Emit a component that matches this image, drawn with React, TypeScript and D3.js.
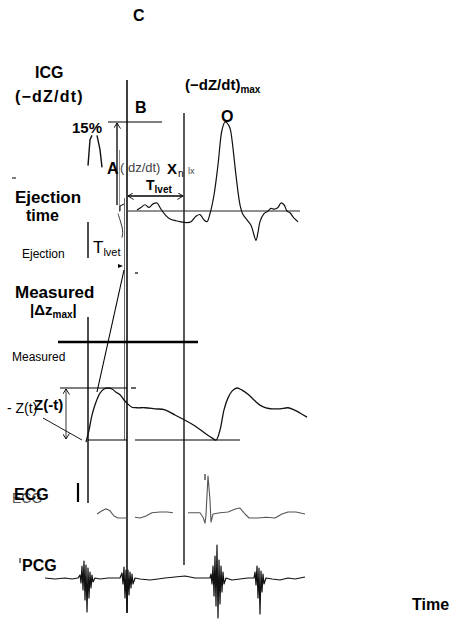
import { useEffect, useRef } from 'react';
import * as d3 from 'd3';

type Pt = [number, number];

// time in ms, amplitude in arbitrary units; NaN marks a pen-up gap
const icgEarly: Pt[] = [[240, 0.51], [250, 0.8], [260, 0.85], [NaN, NaN], [285, 0.85], [300, 0.69], [310, 0.49]];
const icgPreB: Pt[] = [[390, -0.03], [400, -0.1], [410, -0.17], [415, -0.24], [410, -0.3]];
const icgTrace: Pt[] = [
  [485, 0.01], [505, 0.04], [525, 0.07], [545, 0.04], [565, 0.08], [585, 0.09], [605, 0.02], [625, -0.04],
  [650, -0.09], [680, -0.11], [700, -0.12], [735, -0.13], [755, -0.12], [780, -0.06], [800, -0.04],
  [820, -0.1], [835, -0.12], [850, -0.03], [870, 0.18], [890, 0.52], [910, 0.91], [925, 1.0], [935, 0.99],
  [950, 0.93], [960, 0.8], [980, 0.4], [1000, 0.07], [1015, -0.04], [1035, -0.1], [1055, -0.16],
  [1070, -0.27], [1080, -0.33], [1090, -0.24], [1100, -0.12], [1120, -0.03], [1140, 0], [1155, 0.03],
  [1170, 0.02], [1190, 0.04], [1205, 0.09], [1220, 0.07], [1235, 0], [1250, -0.02], [1270, -0.08], [1290, -0.12],
];

const zTrace: Pt[] = [
  [230, -0.04], [245, 0.19], [260, 0.48], [280, 0.73], [300, 0.9], [320, 0.98], [340, 1.0], [360, 0.98],
  [380, 0.92], [400, 0.87], [420, 0.77], [440, 0.69], [460, 0.63], [485, 0.62], [525, 0.62], [575, 0.6],
  [625, 0.58], [675, 0.48], [725, 0.38], [775, 0.27], [825, 0.13], [860, 0.04], [880, 0], [900, 0.19],
  [920, 0.58], [940, 0.81], [960, 0.94], [985, 1.0], [1010, 0.96], [1040, 0.88], [1070, 0.77], [1100, 0.67],
  [1130, 0.62], [1160, 0.6], [1200, 0.6], [1240, 0.62], [1270, 0.58], [1300, 0.52], [1335, 0.44],
];

const ecgTrace: Pt[] = [
  [285, 0.05], [310, 0.13], [330, 0.18], [350, 0.13], [370, 0], [390, -0.05], [415, -0.05], [435, -0.05],
  [NaN, NaN],
  [475, -0.03], [500, -0.05], [530, 0], [560, 0.08], [600, 0.1], [635, 0.1], [665, 0.08],
  [NaN, NaN],
  [740, 0.08], [775, 0.08], [800, 0.08], [815, -0.03], [825, -0.18], [830, 0.03], [840, 1.0], [850, 0.4],
  [855, -0.15], [865, 0.05], [900, 0.08], [940, 0.1], [980, 0.18], [1000, 0.2], [1020, 0.08], [1045, -0.05],
  [1090, -0.05], [1130, -0.03], [1175, -0.05], [1210, 0.05], [1240, 0.1], [1280, 0.1], [1325, 0.05],
];

const pcgTrace: Pt[] = [
  [25, 0], [75, -0.1], [125, 0], [160, -0.1], [190, 0],
  [200, 0.3], [205, -0.5], [210, 1.2], [215, -1.2], [220, 1.7], [225, -2.2], [230, 1.3], [235, -3.4],
  [240, 1.0], [245, -2.0], [250, 0.6], [255, -1.0], [260, 0.3], [265, -0.4], [275, 0],
  [300, -0.1], [340, 0], [375, 0], [400, 0],
  [410, 0.5], [415, -0.6], [420, 1.1], [425, -2.0], [430, 0.8], [435, -3.4], [440, 0.8], [445, -1.7],
  [450, 0.6], [455, -1.0], [460, 0.4], [465, -0.6], [475, 0],
  [500, -0.1], [550, -0.2], [590, -0.1], [625, 0], [675, 0.1], [725, 0.2], [775, 0], [825, 0],
  [850, 0], [855, 0.4], [860, -0.6], [865, 1.2], [870, -1.8], [875, 2.2], [880, -2.8], [885, 3.3],
  [890, -4.0], [895, 1.8], [900, -2.6], [905, 1.2], [910, -1.4], [915, 0.6], [920, -0.6], [930, 0],
  [960, -0.2], [1000, -0.1], [1040, 0], [1070, 0],
  [1075, 0.6], [1080, -0.7], [1085, 1.2], [1090, -2.0], [1095, 1.0], [1100, -3.6], [1105, 0.7],
  [1110, -1.4], [1115, 0.4], [1120, -0.6], [1130, 0],
  [1160, -0.1], [1200, -0.2], [1240, 0], [1275, -0.1], [1325, 0.1],
];

// event markers (ms): Q onset, B point, X point
const tQ = 240;
const tB = 435;
const tX = 720;

const FONT = 'Liberation Sans, Arial, Helvetica, sans-serif';

export default function App() {
  const ref = useRef<SVGSVGElement>(null);

  useEffect(() => {
    if (!ref.current) return;
    const svg = d3.select(ref.current);
    svg.selectAll('*').remove();

    const x = d3.scaleLinear().domain([0, 1500]).range([40, 340]);
    const icgY = d3.scaleLinear().domain([0, 1]).range([211, 122]);
    const zY = d3.scaleLinear().domain([0, 1]).range([440, 388]);
    const ecgY = d3.scaleLinear().domain([0, 1]).range([516, 476]);
    const pcgY = d3.scaleLinear().domain([0, 1]).range([578, 568]);

    const defs = svg.append('defs');
    defs
      .append('marker')
      .attr('id', 'chev')
      .attr('viewBox', '0 0 10 10')
      .attr('refX', 9)
      .attr('refY', 5)
      .attr('markerWidth', 7)
      .attr('markerHeight', 7)
      .attr('orient', 'auto-start-reverse')
      .attr('markerUnits', 'userSpaceOnUse')
      .append('path')
      .attr('d', 'M1,0 L9,5 L1,10')
      .attr('fill', 'none')
      .attr('stroke', '#000')
      .attr('stroke-width', 1.3);

    const drawTrace = (data: Pt[], yS: d3.ScaleLinear<number, number>, color: string, w: number, curve = d3.curveCatmullRom) => {
      const line = d3
        .line<Pt>()
        .defined((d) => !isNaN(d[0]))
        .x((d) => x(d[0]))
        .y((d) => yS(d[1]))
        .curve(curve);
      svg
        .append('path')
        .datum(data)
        .attr('fill', 'none')
        .attr('stroke', color)
        .attr('stroke-width', w)
        .attr('stroke-linejoin', 'round')
        .attr('d', line);
    };

    const ln = (x1: number, y1: number, x2: number, y2: number, w = 1.2, c = '#000') =>
      svg
        .append('line')
        .attr('x1', x1)
        .attr('y1', y1)
        .attr('x2', x2)
        .attr('y2', y2)
        .attr('stroke', c)
        .attr('stroke-width', w);

    const txt = (s: string, tx: number, ty: number, size: number, bold = true, fill = '#000') =>
      svg
        .append('text')
        .attr('x', tx)
        .attr('y', ty)
        .attr('font-family', FONT)
        .attr('font-size', size)
        .attr('font-weight', bold ? 'bold' : 'normal')
        .attr('fill', fill)
        .text(s);

    const withSub = (main: string, sub: string, tx: number, ty: number, size: number, subSize: number, bold = true, after = '') => {
      const t = svg
        .append('text')
        .attr('x', tx)
        .attr('y', ty)
        .attr('font-family', FONT)
        .attr('font-weight', bold ? 'bold' : 'normal')
        .attr('font-size', size);
      t.append('tspan').text(main);
      t.append('tspan').attr('font-size', subSize).attr('dy', 3).text(sub);
      if (after) t.append('tspan').attr('dy', -3).text(after);
    };

    const xQ = x(tQ);
    const xB = x(tB);
    const xX = x(tX);

    // vertical event lines
    ln(xB, 80, xB, 613, 1.5);
    ln(xB - 2.5, 198, xB - 2.5, 440, 0.8, '#444');
    ln(xX, 113, xX, 565, 1.3);
    ln(xQ, 222, xQ, 258, 1.4);
    ln(xQ, 317, xQ, 503, 1.4);
    ln(78, 483, 78, 502, 2.2);

    // ICG annotations
    ln(108, icgY(1), 162, icgY(1), 1);
    ln(xB + 1, icgY(0), 300, icgY(0), 1, '#222');
    ln(117, 205, 117, icgY(1) + 1, 1.3).attr('marker-end', 'url(#chev)');
    ln(119.5, 150, 119.5, 212, 0.7, '#666');
    svg.append('path').attr('d', 'M124,204 L120,206 L120,211').attr('fill', 'none').attr('stroke', '#000').attr('stroke-width', 1);
    ln(xB + 1, 196, xX - 1, 196, 1.3).attr('marker-start', 'url(#chev)').attr('marker-end', 'url(#chev)');
    ln(12, 178, 16, 178, 1);

    drawTrace(icgEarly, icgY, '#111', 1.4, d3.curveLinear);
    drawTrace(icgPreB, icgY, '#333', 1, d3.curveBasis);
    drawTrace(icgTrace, icgY, '#111', 1.2);

    // Z panel annotations
    ln(58, 342, 198, 342, 2.6);
    ln(60, zY(1), xB, zY(1), 1.1);
    ln(131, zY(1), 136, zY(1), 1.2);
    ln(xQ, zY(0), xB, zY(0), 1.1);
    ln(135, zY(0), 240, zY(0), 1.1);
    ln(66, zY(0) - 1, 66, zY(1) + 1, 0.8).attr('marker-start', 'url(#chev)').attr('marker-end', 'url(#chev)');
    ln(43, 418, 82, 440, 0.9);
    ln(97, 392, 124, 270, 1.1);
    svg.append('path').attr('d', 'M118,264 L123,266 L118,268 Z').attr('fill', '#000');
    ln(135, 273, 138, 273, 1.2);
    ln(205, 474, 205, 480, 1);
    ln(20, 558, 20, 563, 1);

    drawTrace(zTrace, zY, '#111', 1.3);
    drawTrace(ecgTrace, ecgY, '#555', 1.1, d3.curveLinear);
    drawTrace(pcgTrace, pcgY, '#111', 1.2, d3.curveLinear);

    // labels
    txt('C', 133, 21, 16);
    txt('ICG', 35, 78, 16);
    txt('(−dZ/dt)', 15, 102, 16).attr('letter-spacing', 1.2);
    withSub('(−dZ/dt)', 'max', 185, 90, 15, 10);
    txt('B', 135, 113, 16);
    txt('15%', 72, 133, 15);
    txt('O', 221, 122, 16);
    txt('A', 107, 174, 16);
    txt('( dz/dt)', 120, 172, 13, false, '#444');
    txt('X', 167, 174, 15);
    txt('n', 178, 177, 10, false);
    txt('lx', 188, 174, 9, false, '#444');
    withSub('T', 'lvet', 146, 190, 14, 10);
    txt('Ejection', 15, 203, 17);
    txt('time', 26, 221, 16);
    txt('Ejection', 22, 258, 12, false);
    withSub('T', 'lvet', 93, 253, 17, 11, false);
    txt('Measured', 15, 298, 17);
    withSub('|Δz', 'max', 30, 315, 15, 10, true, '|');
    txt('Measured', 12, 361, 12, false);
    txt('- Z(t)', 7, 413, 14, false);
    txt('Z(-t)', 34, 410, 15);
    txt('ECG', 12, 503, 14, false, '#555');
    txt('ECG', 14, 500, 16);
    txt('PCG', 22, 571, 16);
    txt('Time', 412, 610, 16);

    return () => {
      svg.selectAll('*').remove();
    };
  }, []);

  return (
    <svg
      ref={ref}
      width={454}
      height={620}
      style={{ position: 'absolute', left: 0, top: 0, background: '#fff' }}
    />
  );
}
